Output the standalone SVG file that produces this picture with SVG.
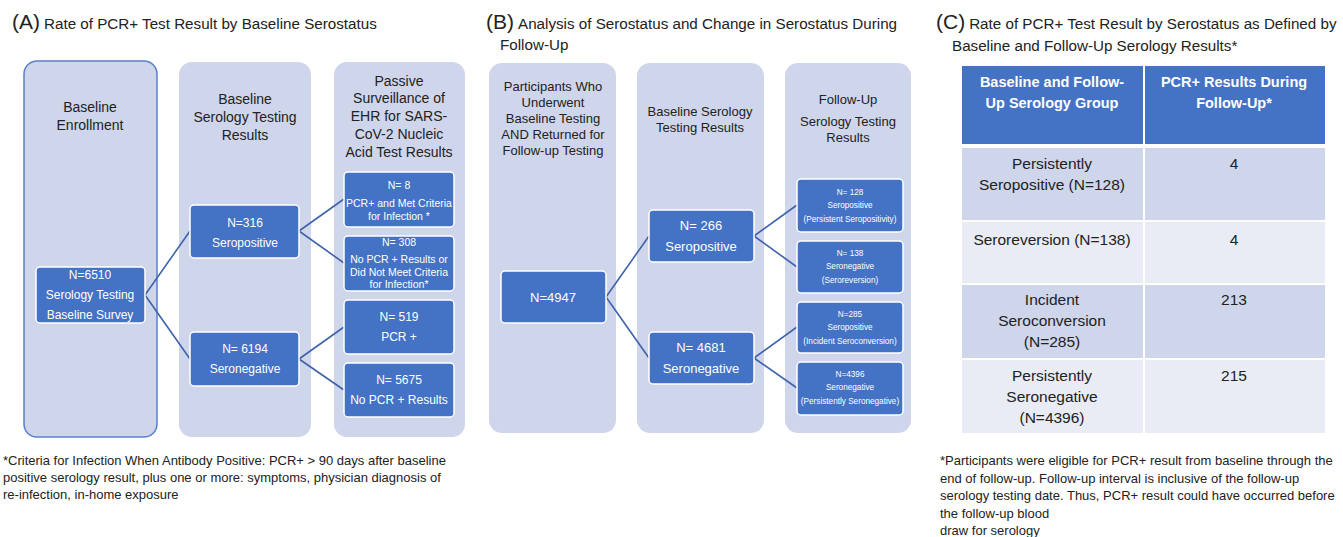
<svg xmlns="http://www.w3.org/2000/svg" width="1343" height="537" viewBox="0 0 1343 537">
<style>
text{font-family:"Liberation Sans",Arial,sans-serif;fill:#222}
.t{font-size:15.2px}
.tl{font-size:21px}
.col{fill:#CFD5EA}
.nd{fill:#4472C4;stroke:#fff;stroke-width:1.5}
.w{fill:#fff;text-anchor:middle}
.h{font-size:14px;text-anchor:middle;fill:#222}
.c{text-anchor:middle}
.fn{font-size:13px}
.cn{stroke:#3F63AB;stroke-width:1.6;fill:none}
.th{fill:#fff;font-weight:bold;font-size:14.5px;text-anchor:middle}
.td{font-size:15.5px;text-anchor:middle}
.s{font-size:8.2px}
</style>
<rect width="1343" height="537" fill="#fff"/>

<!-- Titles -->
<text x="12" y="29"><tspan class="tl">(A)</tspan><tspan class="t" dx="4">Rate of PCR+ Test Result by Baseline Serostatus</tspan></text>
<text x="486" y="29"><tspan class="tl">(B)</tspan><tspan class="t" dx="4">Analysis of Serostatus and Change in Serostatus During</tspan></text>
<text x="500" y="50" class="t">Follow-Up</text>
<text x="936" y="29"><tspan class="tl">(C)</tspan><tspan class="t" dx="4">Rate of PCR+ Test Result by Serostatus as Defined by</tspan></text>
<text x="952" y="51" class="t">Baseline and Follow-Up Serology Results*</text>

<!-- Panel A columns -->
<g id="a-col1"><rect x="24" y="61" width="133" height="376" rx="13" class="col" stroke="#5B7FCC" stroke-width="1.5"/>
<text class="h" x="90" y="112">Baseline</text><text class="h" x="90" y="130">Enrollment</text></g>
<g id="a-col2"><rect x="179" y="62" width="132" height="375" rx="13" class="col"/>
<text class="h" x="245" y="104">Baseline</text><text class="h" x="245" y="122">Serology Testing</text><text class="h" x="245" y="140">Results</text></g>
<g id="a-col3"><rect x="334" y="62" width="131" height="375" rx="13" class="col"/>
<text class="h" x="399" y="86">Passive</text><text class="h" x="399" y="103">Surveillance of</text><text class="h" x="399" y="121">EHR for SARS-</text><text class="h" x="399" y="139">CoV-2 Nucleic</text><text class="h" x="399" y="157">Acid Test Results</text></g>

<!-- Panel B columns -->
<g id="b-col1"><rect x="489" y="63" width="127" height="370" rx="13" class="col"/>
<text class="h" x="553" y="91" style="font-size:13px">Participants Who</text><text class="h" x="553" y="107" style="font-size:13px">Underwent</text><text class="h" x="553" y="123" style="font-size:13px">Baseline Testing</text><text class="h" x="553" y="139" style="font-size:13px">AND Returned for</text><text class="h" x="553" y="155" style="font-size:13px">Follow-up Testing</text></g>
<g id="b-col2"><rect x="637" y="63" width="127" height="370" rx="13" class="col"/>
<text class="h" x="700" y="116" style="font-size:13px">Baseline Serology</text><text class="h" x="700" y="132" style="font-size:13px">Testing Results</text></g>
<g id="b-col3"><rect x="785" y="63" width="126" height="370" rx="13" class="col"/>
<text class="h" x="848" y="104" style="font-size:13px">Follow-Up</text><text class="h" x="848" y="126" style="font-size:13px">Serology Testing</text><text class="h" x="848" y="142" style="font-size:13px">Results</text></g>

<!-- Connectors -->
<g id="connectors" class="cn">
<path d="M145 295 L190 231 M145 295 L190 359"/>
<path d="M299 231 L344 199 M299 231 L344 263"/>
<path d="M299 359 L344 327 M299 359 L344 390"/>
<path d="M606 297 L649 236 M606 297 L649 358"/>
<path d="M754 236 L797 205 M754 236 L797 267"/>
<path d="M754 358 L797 327 M754 358 L797 388"/>
</g>

<!-- Panel A nodes -->
<g id="a-n6510"><rect x="36" y="267" width="109" height="56" rx="4" class="nd"/>
<text class="w" x="90" y="279" style="font-size:12px">N=6510</text><text class="w" x="90" y="299" style="font-size:12px">Serology Testing</text><text class="w" x="90" y="319" style="font-size:12px">Baseline Survey</text></g>
<g id="a-n316"><rect x="190" y="205" width="109" height="53" rx="4" class="nd"/>
<text class="w" x="245" y="227" style="font-size:12px">N=316</text><text class="w" x="245" y="247" style="font-size:12px">Seropositive</text></g>
<g id="a-n6194"><rect x="190" y="332" width="109" height="54" rx="4" class="nd"/>
<text class="w" x="245" y="353" style="font-size:12px">N= 6194</text><text class="w" x="245" y="373" style="font-size:12px">Seronegative</text></g>
<g id="a-n8"><rect x="344" y="172" width="110" height="55" rx="4" class="nd"/>
<text class="w" x="399" y="189" style="font-size:10.5px">N= 8</text><text class="w" x="399" y="207" style="font-size:10.5px">PCR+ and Met Criteria</text><text class="w" x="399" y="220" style="font-size:10.5px">for Infection *</text></g>
<g id="a-n308"><rect x="344" y="236" width="110" height="55" rx="4" class="nd"/>
<text class="w" x="399" y="246" style="font-size:10.5px">N= 308</text><text class="w" x="399" y="263" style="font-size:10.5px">No PCR + Results or</text><text class="w" x="399" y="276" style="font-size:10.5px">Did Not  Meet Criteria</text><text class="w" x="399" y="288" style="font-size:10.5px">for Infection*</text></g>
<g id="a-n519"><rect x="344" y="300" width="110" height="54" rx="4" class="nd"/>
<text class="w" x="399" y="321" style="font-size:12px">N= 519</text><text class="w" x="399" y="341" style="font-size:12px">PCR +</text></g>
<g id="a-n5675"><rect x="344" y="363" width="110" height="54" rx="4" class="nd"/>
<text class="w" x="399" y="384" style="font-size:12px">N= 5675</text><text class="w" x="399" y="404" style="font-size:12px">No PCR + Results</text></g>

<!-- Panel B nodes -->
<g id="b-n4947"><rect x="501" y="271" width="105" height="52" rx="4" class="nd"/>
<text class="w" x="553" y="302" style="font-size:13px">N=4947</text></g>
<g id="b-n266"><rect x="649" y="210" width="105" height="52" rx="4" class="nd"/>
<text class="w" x="701" y="230" style="font-size:13px">N= 266</text><text class="w" x="701" y="251" style="font-size:13px">Seropositive</text></g>
<g id="b-n4681"><rect x="649" y="332" width="105" height="52" rx="4" class="nd"/>
<text class="w" x="701" y="352" style="font-size:13px">N= 4681</text><text class="w" x="701" y="373" style="font-size:13px">Seronegative</text></g>
<g id="b-n128"><rect x="797" y="179" width="106" height="53" rx="4" class="nd"/>
<text class="w s" x="850" y="195">N= 128</text><text class="w s" x="850" y="208">Seropositive</text><text class="w s" x="850" y="222">(Persistent Seropositivity)</text></g>
<g id="b-n138"><rect x="797" y="241" width="106" height="52" rx="4" class="nd"/>
<text class="w s" x="850" y="256">N= 138</text><text class="w s" x="850" y="269">Seronegative</text><text class="w s" x="850" y="283">(Seroreversion)</text></g>
<g id="b-n285"><rect x="797" y="302" width="106" height="51" rx="4" class="nd"/>
<text class="w s" x="850" y="317">N=285</text><text class="w s" x="850" y="330">Seropositive</text><text class="w s" x="850" y="344">(Incident Seroconversion)</text></g>
<g id="b-n4396"><rect x="797" y="362" width="106" height="53" rx="4" class="nd"/>
<text class="w s" x="850" y="377">N=4396</text><text class="w s" x="850" y="390">Seronegative</text><text class="w s" x="850" y="404">(Persistently Seronegative)</text></g>

<!-- Panel C table -->
<g id="c-table">
<rect x="962" y="66" width="181" height="78" fill="#4472C4"/>
<rect x="1145" y="66" width="180" height="78" fill="#4472C4"/>
<rect x="962" y="148" width="181" height="72" fill="#CFD5EA"/>
<rect x="1145" y="148" width="180" height="72" fill="#CFD5EA"/>
<rect x="962" y="222" width="181" height="61" fill="#E9EBF5"/>
<rect x="1145" y="222" width="180" height="61" fill="#E9EBF5"/>
<rect x="962" y="285" width="181" height="73" fill="#CFD5EA"/>
<rect x="1145" y="285" width="180" height="73" fill="#CFD5EA"/>
<rect x="962" y="360" width="181" height="73" fill="#E9EBF5"/>
<rect x="1145" y="360" width="180" height="73" fill="#E9EBF5"/>
<text class="th" x="1052" y="87">Baseline and Follow-</text><text class="th" x="1052" y="108">Up Serology Group</text>
<text class="th" x="1234" y="87">PCR+ Results During</text><text class="th" x="1234" y="108">Follow-Up*</text>
<text class="td" x="1052" y="169">Persistently</text><text class="td" x="1052" y="190">Seropositive (N=128)</text><text class="td" x="1234" y="169">4</text>
<text class="td" x="1052" y="245">Seroreversion (N=138)</text><text class="td" x="1234" y="245">4</text>
<text class="td" x="1052" y="305">Incident</text><text class="td" x="1052" y="326">Seroconversion</text><text class="td" x="1052" y="347">(N=285)</text><text class="td" x="1234" y="305">213</text>
<text class="td" x="1052" y="381">Persistently</text><text class="td" x="1052" y="402">Seronegative</text><text class="td" x="1052" y="423">(N=4396)</text><text class="td" x="1234" y="381">215</text>
</g>

<!-- Footnotes -->
<g id="fn-a" class="fn">
<text x="3" y="465">*Criteria for Infection When Antibody Positive: PCR+ &gt; 90 days after baseline</text>
<text x="3" y="482">positive serology result, plus one or more: symptoms, physician diagnosis of</text>
<text x="3" y="499">re-infection, in-home exposure</text>
</g>
<g id="fn-c" class="fn">
<text x="940" y="465">*Participants were eligible for PCR+ result from baseline through the</text>
<text x="940" y="483">end of follow-up.  Follow-up interval is inclusive of the follow-up</text>
<text x="940" y="500">serology testing date. Thus, PCR+ result could have occurred before</text>
<text x="940" y="518">the follow-up blood</text>
<text x="940" y="535">draw for serology</text>
</g>
</svg>
